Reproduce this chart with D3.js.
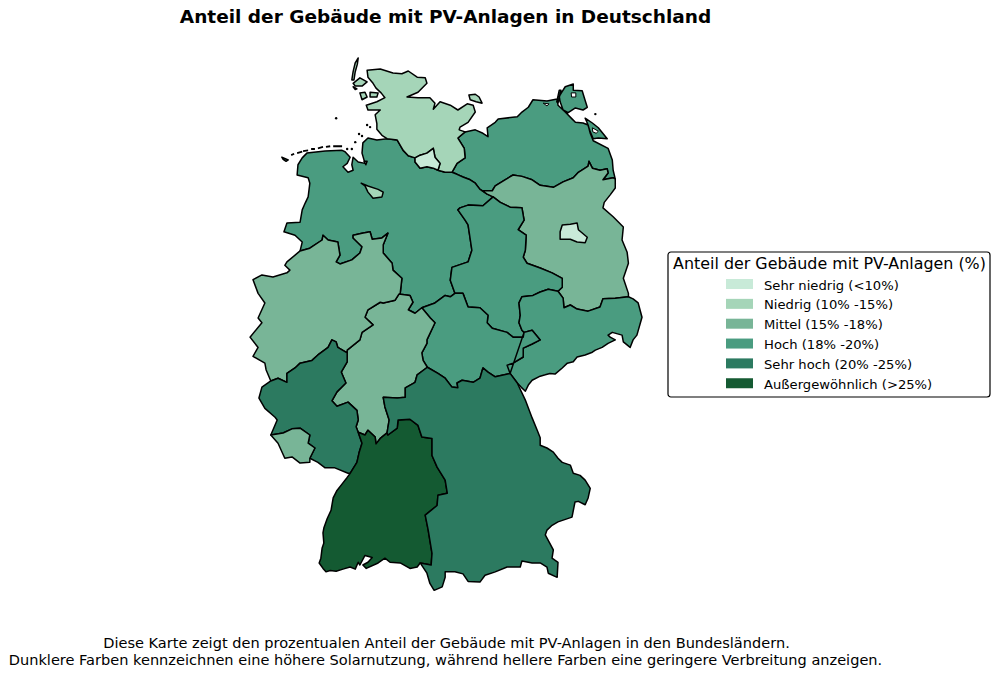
<!DOCTYPE html>
<html>
<head>
<meta charset="utf-8">
<script src="https://cdn.jsdelivr.net/npm/d3@7"></script>
<style>
body { margin: 0; background: #fff; }
text { font-family: "DejaVu Sans", sans-serif; fill: #000; }
</style>
</head>
<body>
<svg id="chart" width="1000" height="677"></svg>
<script>
// classes shown in the legend
var classLabels = ["Sehr niedrig (<10%)", "Niedrig (10% -15%)", "Mittel (15% -18%)", "Hoch (18% -20%)", "Sehr hoch (20% -25%)", "Außergewöhnlich (>25%)"];
var classColors = ["#c8ead8", "#a5d5b8", "#78b597", "#4a9c80", "#2c7a60", "#145a32"];

// Bundesländer and the class index each one falls into
var stateNames = ["Schleswig-Holstein", "Hamburg", "Mecklenburg-Vorpommern", "Niedersachsen", "Bremen", "Brandenburg", "Berlin", "Sachsen-Anhalt", "Sachsen", "Thüringen", "Hessen", "Nordrhein-Westfalen", "Rheinland-Pfalz", "Saarland", "Baden-Württemberg", "Bayern"];
var stateClass = [1, 0, 3, 3, 1, 2, 0, 3, 3, 3, 2, 2, 4, 2, 5, 4];

// shared borders, lon/lat
var shCoast = [[9.03,53.88],[8.91,53.93],[8.79,54.02],[8.79,54.10],[8.75,54.23],[8.87,54.30],[8.58,54.30],[8.54,54.37],[8.79,54.42],[8.98,54.48],[8.89,54.55],[8.77,54.62],[8.70,54.69],[8.58,54.78],[8.56,54.88],[8.87,54.90],[9.17,54.84],[9.38,54.83],[9.53,54.87],[9.74,54.78],[9.93,54.77],[9.97,54.69],[9.76,54.56],[9.50,54.49],[9.76,54.48],[10.04,54.48],[10.16,54.40],[10.12,54.31],[10.28,54.42],[10.52,54.37],[10.70,54.30],[10.92,54.39],[11.06,54.37],[11.11,54.27],[10.94,54.12],[10.75,54.05],[10.73,54.01],[10.87,53.98]];
var shMv = [[10.87,53.98],[10.70,53.89],[10.85,53.74],[10.87,53.60],[10.68,53.52],[10.56,53.39]];
var shNi1 = [[9.03,53.88],[9.27,53.86],[9.41,53.71],[9.53,53.63],[9.69,53.60]];
var hhSh = [[9.69,53.60],[9.81,53.64],[9.97,53.67],[10.12,53.74],[10.16,53.61],[10.28,53.52],[10.23,53.42]];
var hhNi = [[9.69,53.60],[9.69,53.54],[9.81,53.45],[9.97,53.47],[10.12,53.45],[10.23,53.42]];
var shNi2 = [[10.23,53.42],[10.40,53.39],[10.56,53.39]];
var mvNi = [[10.56,53.39],[10.68,53.36],[10.82,53.32],[10.99,53.28],[11.11,53.23],[11.22,53.14],[11.27,53.12]];
var mvBb = [[11.27,53.12],[11.51,53.12],[11.58,53.19],[11.81,53.28],[12.00,53.35],[12.21,53.33],[12.45,53.28],[12.64,53.20],[12.95,53.17],[13.18,53.25],[13.42,53.31],[13.54,53.39],[13.77,53.48],[13.79,53.55],[13.87,53.45],[14.05,53.42],[14.22,53.44],[14.24,53.38],[14.12,53.28],[14.36,53.31],[14.41,53.29]];
var mvCoast = [[14.41,53.29],[14.36,53.42],[14.34,53.57],[14.24,53.74],[13.89,53.85],[13.82,53.96],[13.77,54.08],[13.65,54.11],[13.47,54.12],[13.39,54.17],[13.23,54.27],[13.06,54.37],[13.04,54.46],[12.80,54.43],[12.47,54.45],[12.36,54.34],[12.21,54.27],[12.10,54.20],[11.65,54.17],[11.58,54.12],[11.39,54.04],[11.41,53.91],[11.29,53.96],[11.11,54.01],[10.87,53.98]];
var niCoast = [[9.03,53.88],[8.79,53.86],[8.58,53.89],[8.46,53.82],[8.44,53.67],[8.51,53.52],[8.35,53.54],[8.23,53.61],[8.20,53.50],[8.23,53.42],[8.11,53.39],[7.99,53.47],[8.09,53.52],[8.16,53.61],[8.04,53.69],[7.97,53.71],[7.57,53.70],[7.14,53.67],[7.03,53.60],[6.93,53.50],[6.91,53.35],[7.17,53.31],[7.21,53.23],[7.17,53.03],[7.10,52.94],[7.03,52.84],[6.98,52.66],[6.67,52.65],[6.60,52.52],[6.86,52.47],[7.03,52.37],[6.98,52.24]];
var niNw = [[6.98,52.24],[7.21,52.28],[7.50,52.40],[7.52,52.47],[7.64,52.40],[7.87,52.37],[7.92,52.18],[7.83,52.08],[7.92,52.05],[8.20,52.11],[8.39,52.21],[8.44,52.30],[8.23,52.43],[8.23,52.47],[8.44,52.50],[8.63,52.52],[8.68,52.41],[8.91,52.43],[9.05,52.50],[8.94,52.33],[8.94,52.21],[9.15,52.06],[9.17,51.96],[9.38,51.84],[9.34,51.62],[9.31,51.61]];
var niHe = [[9.31,51.61],[9.57,51.59],[9.64,51.49],[9.53,51.38],[9.69,51.33],[9.85,51.41]];
var niTh = [[9.85,51.41],[10.16,51.48],[10.40,51.59],[10.52,51.57],[10.63,51.62]];
var niSt = [[10.63,51.62],[10.52,51.81],[10.56,52.00],[10.94,52.08],[11.03,52.25],[10.94,52.62],[10.87,52.69],[10.70,52.84],[10.75,52.87],[10.94,52.91],[11.29,52.90],[11.53,53.03]];
var niBb = [[11.53,53.03],[11.39,53.07],[11.27,53.12]];
var stBb = [[11.53,53.03],[11.70,52.95],[11.93,52.88],[12.21,52.87],[12.26,52.69],[12.12,52.55],[12.31,52.47],[12.29,52.25],[12.24,52.15],[12.33,52.06],[12.64,51.99],[12.92,51.92],[13.16,51.84],[13.16,51.71],[13.06,51.65]];
var stSn = [[13.06,51.65],[12.83,51.68],[12.64,51.64],[12.47,51.59],[12.21,51.57],[12.14,51.48],[12.17,51.30],[12.14,51.19],[12.21,51.08],[12.26,51.05]];
var stTh = [[12.26,51.05],[12.24,50.98],[12.00,50.98],[11.86,51.05],[11.51,51.11],[11.39,51.19],[11.41,51.30],[11.22,51.41],[10.94,51.42],[10.82,51.62],[10.63,51.62]];
var snTh = [[12.26,51.05],[12.45,51.08],[12.64,50.94],[12.45,50.88],[12.24,50.82],[12.24,50.69],[12.00,50.60],[11.86,50.57],[11.93,50.45]];
var thBy = [[11.93,50.45],[11.58,50.40],[11.41,50.47],[11.29,50.53],[11.22,50.38],[11.06,50.32],[10.80,50.35],[10.68,50.31],[10.70,50.24],[10.56,50.25],[10.40,50.38],[10.23,50.45],[9.98,50.54]];
var heTh = [[9.98,50.54],[9.88,50.64],[9.85,50.75],[9.97,50.89],[9.97,50.94],[10.16,51.19],[10.05,51.26],[9.85,51.41]];
var heBy = [[9.98,50.54],[9.74,50.43],[9.69,50.32],[9.46,50.24],[9.46,50.10],[9.27,50.09],[8.94,50.10],[8.98,49.96],[9.08,49.77],[9.03,49.58]];
var heBw = [[9.03,49.58],[8.87,49.50],[8.77,49.42],[8.75,49.52],[8.58,49.62],[8.51,49.55],[8.35,49.59]];
var heRp = [[8.09,50.75],[8.09,50.62],[7.95,50.47],[8.06,50.31],[7.85,50.18],[7.73,50.05],[7.85,49.97],[8.11,50.03],[8.32,49.91],[8.35,49.77],[8.30,49.67],[8.35,49.59]];
var nwHe = [[9.31,51.61],[9.22,51.52],[8.94,51.48],[8.87,51.49],[8.58,51.38],[8.51,51.27],[8.70,51.16],[8.44,51.05],[8.39,50.94],[8.09,50.79],[8.09,50.75]];
var nwWest = [[6.98,52.24],[6.67,52.08],[6.62,52.03],[6.74,51.96],[6.67,51.92],[6.34,51.86],[6.08,51.89],[5.87,51.82],[5.99,51.62],[6.15,51.48],[5.99,51.26],[6.08,51.19],[5.80,50.98],[5.99,50.83],[5.87,50.70],[6.15,50.60],[6.18,50.50],[6.29,50.34]];
var rpNw = [[6.29,50.34],[6.46,50.38],[6.67,50.32],[6.67,50.45],[6.86,50.53],[6.98,50.60],[7.26,50.64],[7.40,50.72],[7.64,50.83],[7.73,50.94],[7.83,50.91],[7.87,50.83],[8.09,50.75]];
var rpWest = [[6.29,50.34],[6.08,50.25],[6.01,50.09],[6.15,49.94],[6.39,49.81],[6.44,49.77],[6.29,49.55]];
var rpSl = [[6.29,49.55],[6.58,49.58],[6.79,49.64],[6.98,49.65],[7.21,49.55],[7.17,49.43],[7.33,49.36],[7.21,49.21]];
var slFr = [[6.29,49.55],[6.46,49.43],[6.62,49.21],[6.79,49.23],[6.98,49.14],[7.21,49.15],[7.21,49.21]];
var rpFr = [[7.21,49.21],[7.40,49.15],[7.57,49.07],[7.80,49.07],[8.11,48.99],[8.16,48.99]];
var rpBw = [[8.35,49.59],[8.44,49.43],[8.37,49.29],[8.32,49.15],[8.16,48.99]];
var bwWest = [[8.16,48.99],[8.09,48.93],[7.99,48.85],[7.85,48.74],[7.76,48.63],[7.71,48.45],[7.62,48.33],[7.54,48.19],[7.52,48.12],[7.54,47.97],[7.50,47.90],[7.47,47.75],[7.43,47.68],[7.52,47.60],[7.59,47.55],[7.69,47.57],[7.83,47.56],[7.99,47.59],[8.16,47.62],[8.28,47.59],[8.35,47.69],[8.39,47.65],[8.51,47.79],[8.68,47.76],[8.58,47.69],[8.46,47.65],[8.54,47.60],[8.82,47.68],[8.98,47.75],[9.10,47.69],[9.34,47.68],[9.57,47.60],[9.74,47.62],[9.81,47.68]];
var bwBy = [[9.03,49.58],[9.05,49.55],[9.27,49.65],[9.29,49.77],[9.57,49.78],[9.76,49.69],[9.85,49.52],[10.09,49.50],[10.09,49.25],[10.21,49.08],[10.40,48.89],[10.45,48.70],[10.23,48.67],[10.21,48.52],[9.93,48.38],[10.00,48.16],[10.09,47.82],[10.07,47.65],[9.81,47.68]];
var byEast = [[9.81,47.68],[9.97,47.53],[10.04,47.38],[10.14,47.28],[10.33,47.33],[10.40,47.47],[10.40,47.55],[10.63,47.55],[10.82,47.52],[10.94,47.41],[11.22,47.40],[11.34,47.50],[11.58,47.55],[11.86,47.62],[12.17,47.62],[12.21,47.71],[12.45,47.68],[12.64,47.68],[12.80,47.62],[12.83,47.53],[13.04,47.47],[13.06,47.69],[12.92,47.75],[12.95,47.87],[12.76,48.09],[12.80,48.16],[12.92,48.23],[13.06,48.28],[13.39,48.35],[13.46,48.57],[13.54,48.58],[13.70,48.53],[13.77,48.63],[13.82,48.77],[13.70,48.89],[13.58,48.96],[13.42,48.99],[13.35,49.11],[13.16,49.15],[13.06,49.21],[12.95,49.30],[12.80,49.36],[12.64,49.40],[12.64,49.51],[12.57,49.62],[12.45,49.80],[12.29,50.06],[12.10,50.31]];
var bySn = [[11.93,50.45],[12.10,50.31]];
var snCz = [[12.10,50.31],[12.19,50.25],[12.29,50.19],[12.36,50.28],[12.45,50.35],[12.64,50.41],[12.76,50.43],[12.87,50.45],[12.99,50.44],[13.16,50.53],[13.28,50.60],[13.42,50.62],[13.51,50.69],[13.70,50.72],[13.87,50.76],[13.94,50.79],[14.10,50.83],[14.24,50.89],[14.41,50.94],[14.29,50.98],[14.24,51.01],[14.34,51.05],[14.57,51.01],[14.60,50.91],[14.76,50.83],[14.83,50.94],[14.92,51.01],[15.04,51.27],[14.95,51.48],[14.83,51.54],[14.72,51.57]];
var bbPl = [[14.41,53.29],[14.41,53.16],[14.29,53.06],[14.15,52.95],[14.12,52.87],[14.36,52.74],[14.60,52.59],[14.57,52.40],[14.69,52.22],[14.72,52.06],[14.60,51.84],[14.72,51.62],[14.72,51.57]];
var bbSn = [[13.06,51.65],[13.18,51.55],[13.20,51.41],[13.35,51.45],[13.51,51.39],[13.77,51.36],[14.05,51.42],[14.12,51.54],[14.41,51.55],[14.72,51.57]];

// enclaves and islands
var berlin = [[13.11,52.52],[13.16,52.62],[13.35,52.63],[13.51,52.65],[13.54,52.55],[13.75,52.44],[13.70,52.36],[13.51,52.37],[13.35,52.41],[13.11,52.41]];
var bremen = [[8.42,53.23],[8.58,53.19],[8.82,53.14],[8.94,53.10],[8.91,53.03],[8.70,53.01],[8.58,53.10],[8.51,53.19]];
var bremerhaven = [[8.49,53.55],[8.56,53.55],[8.53,53.50]];
var fehmarn = [[10.96,54.52],[11.11,54.53],[11.20,54.49],[11.27,54.40],[11.13,54.42],[10.99,54.45]];
var sylt = [[8.35,55.06],[8.28,54.99],[8.23,54.86],[8.20,54.74],[8.25,54.74],[8.28,54.86],[8.33,54.97]];
var foehr = [[8.23,54.69],[8.39,54.77],[8.56,54.71],[8.44,54.65],[8.28,54.65]];
var amrum = [[8.23,54.64],[8.32,54.61],[8.28,54.60]];
var pellworm = [[8.39,54.55],[8.51,54.56],[8.56,54.49],[8.44,54.45]];
var nordstrand = [[8.63,54.56],[8.82,54.55],[8.79,54.49],[8.63,54.49]];
var ruegen = [[13.15,54.56],[13.23,54.64],[13.42,54.68],[13.42,54.59],[13.63,54.58],[13.68,54.48],[13.75,54.34],[13.65,54.30],[13.47,54.33],[13.30,54.26],[13.18,54.30],[13.11,54.42],[13.09,54.50]];
var hiddensee = [[13.09,54.59],[13.13,54.59],[13.06,54.40],[13.03,54.42]];
var usedom = [[13.70,54.18],[13.87,54.11],[14.01,54.04],[14.22,53.88],[14.01,53.89],[13.89,53.88],[13.82,53.98],[13.75,54.11]];
var borkum = [[6.55,53.61],[6.70,53.57],[6.65,53.55],[6.58,53.58]];
var frisianIslands = [[[6.77,53.64],[6.84,53.66]],[[6.91,53.67],[7.03,53.69]],[[7.05,53.70],[7.17,53.71]],[[7.24,53.73],[7.33,53.73]],[[7.40,53.74],[7.52,53.76]],[[7.59,53.76],[7.69,53.77]],[[7.76,53.77],[7.97,53.77]]];
var smallIslands = [[7.83,54.18],[8.56,54.08],[8.63,54.05],[8.37,53.95],[8.44,53.92],[8.28,53.83],[8.20,53.73],[8.09,53.73],[13.94,54.24]];
var lagoons = [[[12.71,54.40],[12.85,54.39],[12.80,54.36]],[[13.37,54.55],[13.48,54.55],[13.48,54.49],[13.38,54.49]],[[13.87,54.04],[14.01,53.99],[13.96,53.96],[13.88,53.98]]];

function rev(a) { return a.slice().reverse(); }
function ring() { return [].concat.apply([], arguments); }

var stateRings = [
  [ring(shCoast, shMv, rev(shNi2), rev(hhSh), rev(shNi1)), fehmarn, sylt, foehr, amrum, pellworm, nordstrand],
  [ring(hhSh, rev(hhNi))],
  [ring(mvNi, mvBb, mvCoast, shMv), ruegen, hiddensee, usedom],
  [ring(niCoast, niNw, niHe, niTh, niSt, niBb, rev(mvNi), rev(shNi2), rev(hhNi), rev(shNi1)), borkum],
  [bremen, bremerhaven],
  [ring(mvBb, bbPl, rev(bbSn), rev(stBb), niBb)],
  [berlin],
  [ring(niSt, stBb, stSn, stTh)],
  [ring(bbSn, rev(snCz), rev(bySn), rev(snTh), rev(stSn))],
  [ring(rev(niTh), rev(heTh), rev(thBy), snTh, stTh)],
  [ring(niHe, rev(heTh), heBy, heBw, rev(heRp), rev(nwHe))],
  [ring(niNw, nwHe, rev(rpNw), rev(nwWest))],
  [ring(rpNw, heRp, rpBw, rev(rpFr), rev(rpSl), rev(rpWest))],
  [ring(rpSl, rev(slFr))],
  [ring(rev(heBw), bwBy, rev(bwWest), rev(rpBw))],
  [ring(rev(thBy), bySn, rev(byEast), rev(bwBy), rev(heBy))]
];

var svg = d3.select("#chart");

var x = d3.scaleLinear().domain([5.87, 15.04]).range([253, 642]);
var y = d3.scaleLinear().domain([47.27, 55.06]).range([591, 58]);

var geoPath = d3.geoPath(d3.geoTransform({
  point: function(lon, lat) { this.stream.point(x(lon), y(lat)); }
}));

var color = d3.scaleOrdinal().domain(d3.range(classLabels.length)).range(classColors);

var features = stateNames.map(function(name, i) {
  return {
    type: "Feature",
    properties: { name: name, cls: stateClass[i] },
    geometry: { type: "MultiPolygon", coordinates: stateRings[i].map(function(r) { return [r.concat([r[0]])]; }) }
  };
});

// enclaves go last so they sit on top
var order = [2, 3, 5, 7, 8, 9, 10, 11, 12, 13, 14, 15, 0, 1, 4, 6];

svg.selectAll("path.state")
  .data(order.map(function(i) { return features[i]; }))
  .enter().append("path")
  .attr("class", "state")
  .attr("d", geoPath)
  .attr("fill", function(d) { return color(d.properties.cls); })
  .attr("stroke", "#000")
  .attr("stroke-width", 1.5)
  .attr("stroke-linejoin", "round");

svg.selectAll("path.lagoon")
  .data(lagoons)
  .enter().append("path")
  .attr("class", "lagoon")
  .attr("d", function(d) { return geoPath({ type: "Polygon", coordinates: [d.concat([d[0]])] }); })
  .attr("fill", "#fff")
  .attr("stroke", "#000")
  .attr("stroke-width", 1);

svg.append("path")
  .attr("d", geoPath({ type: "MultiLineString", coordinates: frisianIslands }))
  .attr("fill", "none")
  .attr("stroke", "#000")
  .attr("stroke-width", 1.8);

svg.selectAll("circle.isle")
  .data(smallIslands)
  .enter().append("circle")
  .attr("class", "isle")
  .attr("cx", function(d) { return x(d[0]); })
  .attr("cy", function(d) { return y(d[1]); })
  .attr("r", 1.2)
  .attr("fill", "#000");

// title
svg.append("text")
  .attr("x", 445.5).attr("y", 23)
  .attr("text-anchor", "middle")
  .attr("font-size", 18.5)
  .attr("font-weight", "bold")
  .text("Anteil der Gebäude mit PV-Anlagen in Deutschland");

// footer
svg.append("text")
  .attr("x", 446.5).attr("y", 648)
  .attr("text-anchor", "middle")
  .attr("font-size", 14.55)
  .text("Diese Karte zeigt den prozentualen Anteil der Gebäude mit PV-Anlagen in den Bundesländern.");
svg.append("text")
  .attr("x", 445.5).attr("y", 665)
  .attr("text-anchor", "middle")
  .attr("font-size", 14.55)
  .text("Dunklere Farben kennzeichnen eine höhere Solarnutzung, während hellere Farben eine geringere Verbreitung anzeigen.");

// legend
var legend = svg.append("g").attr("transform", "translate(668,252)");

legend.append("rect")
  .attr("width", 322).attr("height", 145)
  .attr("rx", 3)
  .attr("fill", "#fff")
  .attr("stroke", "#000")
  .attr("stroke-width", 1.2);

legend.append("text")
  .attr("x", 161.5).attr("y", 17)
  .attr("text-anchor", "middle")
  .attr("font-size", 15.9)
  .text("Anteil der Gebäude mit PV-Anlagen (%)");

var rows = legend.selectAll("g.row")
  .data(classLabels)
  .enter().append("g")
  .attr("class", "row")
  .attr("transform", function(d, i) { return "translate(58," + (27 + i * 19.85) + ")"; });

rows.append("rect")
  .attr("width", 27).attr("height", 10)
  .attr("fill", function(d, i) { return classColors[i]; });

rows.append("text")
  .attr("x", 38).attr("y", 10.5)
  .attr("font-size", 13.15)
  .text(function(d) { return d; });
</script>
</body>
</html>
